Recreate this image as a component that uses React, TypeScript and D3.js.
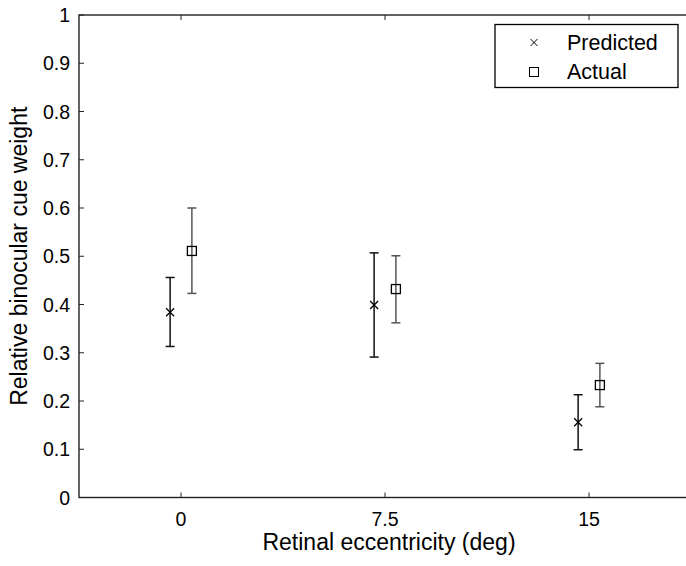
import React, { useEffect, useRef } from 'react'
import * as d3 from 'd3'

// eccentricity groups (deg)
const eccentricities = [0, 7.5, 15]
const xTicks = [0, 7.5, 15]
const yTicks = [0, 0.1, 0.2, 0.3, 0.4, 0.5, 0.6, 0.7, 0.8, 0.9, 1]

// predicted binocular weight with error range
const predicted = [0.384, 0.399, 0.156]
const predictedLow = [0.313, 0.291, 0.099]
const predictedHigh = [0.456, 0.507, 0.213]

// measured binocular weight with error range
const actual = [0.511, 0.432, 0.233]
const actualLow = [0.423, 0.362, 0.188]
const actualHigh = [0.600, 0.501, 0.278]

const W = 686
const H = 566
const FONT = '"Liberation Sans", Arial, Helvetica, sans-serif'

function App() {
  const ref = useRef<SVGSVGElement>(null)

  useEffect(() => {
    const svg = d3.select(ref.current)
    svg.selectAll('*').remove()

    const left = 79
    const right = 691
    const top = 15
    const bottom = 497.5

    const x = d3.scaleLinear().domain([-3.75, 18.75]).range([left, right])
    const y = d3.scaleLinear().domain([0, 1]).range([bottom, top])
    const offset = 0.4
    const tickLen = 5

    const g = svg.append('g')

    // axes box
    g.append('rect')
      .attr('x', left).attr('y', top)
      .attr('width', right - left).attr('height', bottom - top)
      .attr('fill', 'none').attr('stroke', '#222').attr('stroke-width', 1.4)

    // ticks on all four sides
    xTicks.forEach(t => {
      g.append('line').attr('x1', x(t)).attr('x2', x(t))
        .attr('y1', bottom).attr('y2', bottom - tickLen)
        .attr('stroke', '#222')
      g.append('line').attr('x1', x(t)).attr('x2', x(t))
        .attr('y1', top).attr('y2', top + tickLen)
        .attr('stroke', '#222')
      g.append('text').attr('x', x(t)).attr('y', bottom + 28)
        .attr('text-anchor', 'middle')
        .attr('font-family', FONT).attr('font-size', 19.5)
        .text(String(t))
    })
    yTicks.forEach(t => {
      g.append('line').attr('x1', left).attr('x2', left + tickLen)
        .attr('y1', y(t)).attr('y2', y(t)).attr('stroke', '#222')
      g.append('line').attr('x1', right).attr('x2', right - tickLen)
        .attr('y1', y(t)).attr('y2', y(t)).attr('stroke', '#222')
      g.append('text').attr('x', left - 9).attr('y', y(t))
        .attr('dy', '0.36em').attr('text-anchor', 'end')
        .attr('font-family', FONT).attr('font-size', 19.5)
        .text(d3.format('~g')(t))
    })

    const cap = 4.5

    const errorBars = (xs: number[], lo: number[], hi: number[], dx: number, color: string) => {
      xs.forEach((e, i) => {
        const cx = x(e + dx)
        g.append('line').attr('x1', cx).attr('x2', cx)
          .attr('y1', y(lo[i])).attr('y2', y(hi[i]))
          .attr('stroke', color).attr('stroke-width', 1.5)
        ;[lo[i], hi[i]].forEach(v => {
          g.append('line').attr('x1', cx - cap).attr('x2', cx + cap)
            .attr('y1', y(v)).attr('y2', y(v))
            .attr('stroke', color).attr('stroke-width', 1.5)
        })
      })
    }

    errorBars(eccentricities, predictedLow, predictedHigh, -offset, '#111')
    errorBars(eccentricities, actualLow, actualHigh, offset, '#555')

    const cross = (cx: number, cy: number, s: number) => {
      g.append('path')
        .attr('d', `M${cx - s},${cy - s}L${cx + s},${cy + s}M${cx - s},${cy + s}L${cx + s},${cy - s}`)
        .attr('stroke', '#000').attr('stroke-width', 1.3).attr('fill', 'none')
    }
    const square = (cx: number, cy: number, s: number) => {
      g.append('rect')
        .attr('x', cx - s).attr('y', cy - s)
        .attr('width', 2 * s).attr('height', 2 * s)
        .attr('fill', 'none').attr('stroke', '#000').attr('stroke-width', 1.3)
    }

    eccentricities.forEach((e, i) => {
      cross(x(e - offset), y(predicted[i]), 4)
      square(x(e + offset), y(actual[i]), 4.5)
    })

    // legend
    const lg = g.append('g')
    lg.append('rect').attr('x', 495).attr('y', 24.5)
      .attr('width', 183).attr('height', 63)
      .attr('fill', '#fff').attr('stroke', '#000').attr('stroke-width', 1.3)
    const legendCross = (cx: number, cy: number, s: number) => {
      lg.append('path')
        .attr('d', `M${cx - s},${cy - s}L${cx + s},${cy + s}M${cx - s},${cy + s}L${cx + s},${cy - s}`)
        .attr('stroke', '#000').attr('stroke-width', 1).attr('fill', 'none')
    }
    legendCross(534, 42.5, 3.5)
    lg.append('rect').attr('x', 529.5).attr('y', 67.5).attr('width', 9).attr('height', 9)
      .attr('fill', 'none').attr('stroke', '#000').attr('stroke-width', 1)
    lg.append('text').attr('x', 567).attr('y', 50)
      .attr('font-family', FONT).attr('font-size', 21.5).text('Predicted')
    lg.append('text').attr('x', 567).attr('y', 79)
      .attr('font-family', FONT).attr('font-size', 21.5).text('Actual')

    // axis titles
    g.append('text').attr('x', 389).attr('y', 550)
      .attr('text-anchor', 'middle')
      .attr('font-family', FONT).attr('font-size', 23)
      .text('Retinal eccentricity (deg)')
    g.append('text')
      .attr('transform', `translate(27, ${(top + bottom) / 2}) rotate(-90)`)
      .attr('text-anchor', 'middle')
      .attr('font-family', FONT).attr('font-size', 23)
      .text('Relative binocular cue weight')
  }, [])

  return (
    <svg
      ref={ref}
      width={W}
      height={H}
      style={{ position: 'absolute', left: 0, top: 0, background: '#fff' }}
    />
  )
}

export default App
